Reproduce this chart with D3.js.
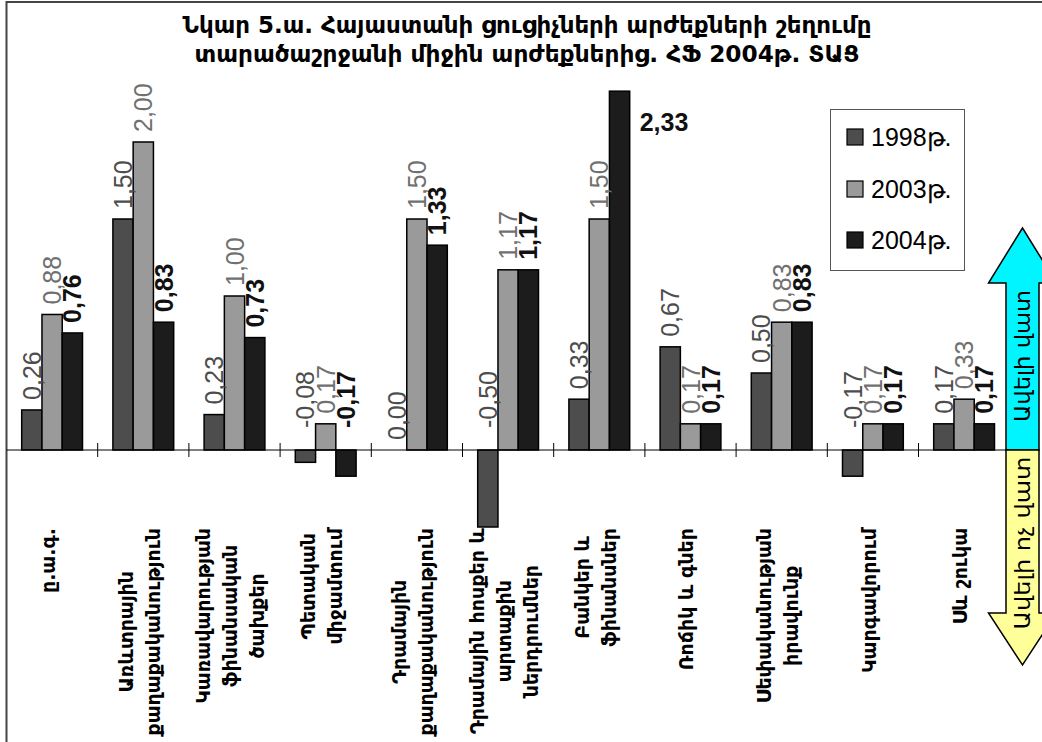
<!DOCTYPE html>
<html>
<head>
<meta charset="utf-8">
<script src="https://cdn.jsdelivr.net/npm/d3@7"></script>
<style>
  body { margin: 0; background: #fff; }
  svg { display: block; }
</style>
</head>
<body>
<div id="chart"></div>
<script>
// categories, "|" marks a line break in the axis label
const categories = ["ը.ա.գ.", "Առևտրային|քաղաքականություն", "Կառավարության|ֆինանսական|ծախքեր",
  "Պետական|միջամտում", "Դրամային|քաղաքականություն", "Դրամային հոսքեր և|արտաքին|ներդրումներ",
  "Բանկեր և|ֆինանսներ", "Ռոճիկ և գներ", "Սեփականության|իրավունք", "Կարգավորում", "Սև շուկա"];
const seriesNames = ["1998թ.", "2003թ.", "2004թ."];
const values1998 = [0.26, 1.50, 0.23, -0.08, 0.00, -0.50, 0.33, 0.67, 0.50, -0.17, 0.17];
const values2003 = [0.88, 2.00, 1.00, 0.17, 1.50, 1.17, 1.50, 0.17, 0.83, 0.17, 0.33];
const values2004 = [0.76, 0.83, 0.73, -0.17, 1.33, 1.17, 2.33, 0.17, 0.83, 0.17, 0.17];
const titleLines = ["Նկար 5.ա. Հայաստանի ցուցիչների արժեքների շեղումը",
  "տարածաշրջանի միջին արժեքներից. ՀՖ 2004թ. ՏԱՑ"];
const arrowTexts = ["Ավելի վատ", "Ավելի ոչ վատ"];

const W = 1042, H = 742;
const barColors = ["#4d4d4d", "#9a9a9a", "#1c1c1c"];
const labelColors = ["#4d4d4d", "#707070", "#111"];
const armFont = "'DejaVu Sans', sans-serif";
const numFont = "'Liberation Sans', Arial, sans-serif";

const series = [values1998, values2003, values2004];

const svg = d3.select("#chart").append("svg").attr("width", W).attr("height", H);

const y = d3.scaleLinear().domain([-1, 2.5]).range([604, 65]);
const x0 = d3.scaleBand().domain(d3.range(categories.length))
  .range([6.5, 1009.7]).paddingInner(1 / 3).paddingOuter(1 / 6);
const x1 = d3.scaleBand().domain(d3.range(series.length)).range([0, x0.bandwidth()]);

// chart frame
svg.append("rect").attr("x", 6.5).attr("y", 2).attr("width", 1100).attr("height", 800)
  .attr("fill", "none").attr("stroke", "#444").attr("stroke-width", 2);

// title
svg.selectAll(".title").data(titleLines).enter().append("text")
  .attr("x", 527).attr("y", (d, i) => 33 + i * 29)
  .attr("text-anchor", "middle")
  .attr("textLength", (d, i) => i === 0 ? 689 : 665)
  .attr("lengthAdjust", "spacingAndGlyphs")
  .style("font-family", armFont).style("font-weight", "bold").style("font-size", "23px")
  .text(d => d);

// bars
for (let s = 0; s < series.length; s++) {
  svg.append("g").selectAll("rect").data(series[s]).enter().append("rect")
    .attr("x", (d, i) => x0(i) + x1(s))
    .attr("y", d => y(Math.max(d, 0)))
    .attr("width", x1.bandwidth())
    .attr("height", d => Math.abs(y(d) - y(0)))
    .attr("fill", barColors[s]).attr("stroke", "#000").attr("stroke-width", 1.5);
}

// zero axis with cross ticks
svg.append("line").attr("x1", 6.5).attr("x2", 1006).attr("y1", y(0)).attr("y2", y(0))
  .attr("stroke", "#000").attr("stroke-width", 1);
for (let i = 1; i < categories.length; i++) {
  const bx = x0.range()[0] + i * x0.step();
  svg.append("line").attr("x1", bx).attr("x2", bx).attr("y1", y(0) - 7).attr("y2", y(0) + 7)
    .attr("stroke", "#000").attr("stroke-width", 1);
}

// value labels
const fmt = v => v.toFixed(2).replace(".", ",");
for (let s = 0; s < series.length; s++) {
  series[s].forEach((v, i) => {
    const cx = x0(i) + x1(s) + x1.bandwidth() / 2;
    const t = svg.append("text")
      .style("font-family", numFont).style("font-size", "25px")
      .style("font-weight", s === 2 ? "bold" : "normal")
      .attr("fill", labelColors[s]).text(fmt(v));
    if (y(v) < 120) {
      t.attr("x", x0(i) + x1(s) + x1.bandwidth() + 10).attr("y", y(v) + 40);
    } else {
      const by = y(Math.max(v, 0)) - 10 - (v < 0 ? 12 : 0);
      t.attr("transform", `translate(${cx},${by}) rotate(-90)`)
        .attr("dy", "0.36em").attr("text-anchor", "start");
    }
  });
}

// category labels (rotated, block top aligned)
categories.forEach((c, i) => {
  const lines = c.split("|");
  const cx = x0(i) + x0.bandwidth() / 2 - 4;
  const g = svg.append("g");
  const texts = lines.map((ln, j) => g.append("text")
    .style("font-family", armFont).style("font-weight", "bold").style("font-size", "19px")
    .attr("text-anchor", "middle").attr("dy", "0.36em").text(ln));
  let maxLen = 0;
  for (const t of texts) maxLen = Math.max(maxLen, t.node().getComputedTextLength());
  const cy = 528 + maxLen / 2;
  texts.forEach((t, j) => {
    const lx = cx + (j - (lines.length - 1) / 2) * 27;
    t.attr("transform", `translate(${lx},${cy}) rotate(-90)`);
  });
});

// legend
const legend = svg.append("g");
legend.append("rect").attr("x", 830.5).attr("y", 109.5).attr("width", 134).attr("height", 161)
  .attr("fill", "#fff").attr("stroke", "#555").attr("stroke-width", 1);
seriesNames.forEach((n, i) => {
  const ly = [137, 189, 240][i];
  legend.append("rect").attr("x", 847).attr("y", ly - 8).attr("width", 16).attr("height", 16)
    .attr("fill", barColors[i]).attr("stroke", "#000").attr("stroke-width", 1.2);
  legend.append("text").attr("x", 871).attr("y", ly + 9)
    .style("font-family", numFont).style("font-size", "25px").text(n);
});

// direction arrows
const ax = 1022.5, shaftHalf = 16.5, headHalf = 34;
const y0 = y(0);
const upPath = `M${ax - shaftHalf},${y0} L${ax - shaftHalf},283 L${ax - headHalf},283 L${ax},228 L${ax + headHalf},283 L${ax + shaftHalf},283 L${ax + shaftHalf},${y0} Z`;
const downPath = `M${ax - shaftHalf},${y0} L${ax - shaftHalf},613 L${ax - headHalf},613 L${ax},665 L${ax + headHalf},613 L${ax + shaftHalf},613 L${ax + shaftHalf},${y0} Z`;
svg.append("path").attr("d", upPath).attr("fill", "#00f5ff").attr("stroke", "#000").attr("stroke-width", 1.5);
svg.append("path").attr("d", downPath).attr("fill", "#ffff99").attr("stroke", "#000").attr("stroke-width", 1.5);
[[356, 132], [543, 173]].forEach((p, i) => {
  svg.append("text").attr("transform", `translate(${ax},${p[0]}) rotate(-90)`)
    .attr("text-anchor", "middle").attr("dy", "0.36em")
    .attr("textLength", p[1]).attr("lengthAdjust", "spacingAndGlyphs")
    .style("font-family", armFont).style("font-size", "21px")
    .text(arrowTexts[i]);
});
</script>
</body>
</html>
